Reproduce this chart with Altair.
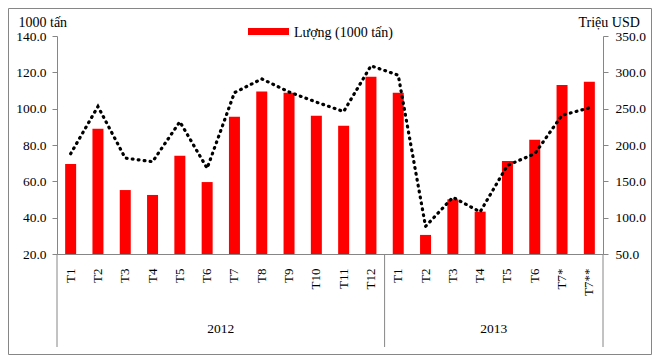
import altair as alt
import pandas as pd

months_2012 = ["T1", "T2", "T3", "T4", "T5", "T6", "T7", "T8", "T9", "T10", "T11", "T12"]
months_2013 = ["T1", "T2", "T3", "T4", "T5", "T6", "T7*", "T7**"]
volume_2012 = [69.5, 89.0, 55.2, 52.5, 74.1, 59.6, 95.6, 109.4, 108.8, 96.1, 90.6, 117.6]
volume_2013 = [108.8, 30.5, 50.1, 43.3, 71.2, 82.9, 113.0, 114.8]
value_2012 = [188, 253, 182, 177, 232, 168, 272, 291, 273, 259, 246, 309]
value_2013 = [296, 88, 128, 108, 172, 188, 241, 251]
years = ["2012", "2013"]
left_ticks = [20, 40, 60, 80, 100, 120, 140]
right_ticks = [50, 100, 150, 200, 250, 300, 350]
legend_label = "Lượng (1000 tấn)"
left_title = "1000 tấn"
right_title = "Triệu USD"

rows = []
for m, v, u in zip(months_2012, volume_2012, value_2012):
    rows.append({"key": f"2012|{m}", "vol": v, "val": u})
for m, v, u in zip(months_2013, volume_2013, value_2013):
    rows.append({"key": f"2013|{m}", "vol": v, "val": u})
df = pd.DataFrame(rows)
order = list(df["key"])

FONT = "Liberation Serif"
GRAY = "#868686"
W, H = 546, 218

xscale = alt.Scale(domain=order, paddingInner=0, paddingOuter=0)
xaxis = alt.Axis(
    title=None, ticks=False, labelAngle=270, labelPadding=14,
    labelExpr="split(datum.label, '|')[1]", labelFont=FONT, labelFontSize=13,
    labelColor="black", domainColor=GRAY,
)


def X(**kw):
    return alt.X("key:N", scale=xscale, axis=xaxis, sort=order, **kw)


base = alt.Chart(df)

bars = base.mark_bar(color="#FF0000", size=11).encode(
    x=X(),
    y=alt.Y(
        "vol:Q",
        scale=alt.Scale(domain=[20, 140], zero=False, clamp=True, nice=False),
        axis=alt.Axis(
            values=left_ticks, format=".1f", grid=False, tickSize=5,
            tickColor=GRAY, domainColor=GRAY, labelPadding=6,
            labelFont=FONT, labelFontSize=13.5, labelColor="black",
            title=left_title, titleAngle=0, titleAlign="left",
            titleBaseline="alphabetic", titleX=-39, titleY=-10,
            titleFont=FONT, titleFontSize=14, titleFontWeight="normal",
            titleColor="black",
        ),
    ),
    y2=alt.Y2(datum=20),
)

line = base.mark_line(
    color="black", strokeWidth=3.2, strokeDash=[0.8, 5.2], strokeCap="round",
    interpolate="linear",
).encode(
    x=X(),
    y=alt.Y(
        "val:Q",
        scale=alt.Scale(domain=[50, 350], zero=False, nice=False),
        axis=alt.Axis(
            orient="right", values=right_ticks, format=".1f", grid=False,
            tickSize=5, tickColor=GRAY, domainColor=GRAY, labelPadding=7,
            labelFont=FONT, labelFontSize=13.5, labelColor="black",
            title=right_title, titleAngle=0, titleAlign="left",
            titleBaseline="alphabetic", titleX=-25, titleY=-10,
            titleFont=FONT, titleFontSize=14, titleFontWeight="normal",
            titleColor="black",
        ),
    ),
)

sep_start = pd.DataFrame({"key": [order[0], order[12]]})
sep_end = pd.DataFrame({"key": [order[-1]]})
rule_start = alt.Chart(sep_start).mark_rule(color=GRAY, strokeWidth=1).encode(
    x=X(bandPosition=0),
    y=alt.value(H), y2=alt.value(H + 93),
)
rule_end = alt.Chart(sep_end).mark_rule(color=GRAY, strokeWidth=1).encode(
    x=X(bandPosition=1),
    y=alt.value(H), y2=alt.value(H + 93),
)

year_df = pd.DataFrame({"key": ["2012|T7", "2013|T5"], "year": years})
year_text = alt.Chart(year_df).mark_text(
    font=FONT, fontSize=13.5, color="black", baseline="alphabetic"
).encode(
    x=X(bandPosition=0),
    y=alt.value(H + 79),
    text="year:N",
)

leg_df = pd.DataFrame({"label": [legend_label]})
leg_swatch = alt.Chart(leg_df).mark_rect(color="#FF0000").encode(
    x=alt.value(191), x2=alt.value(232), y=alt.value(-8), y2=alt.value(-1)
)
leg_text = alt.Chart(leg_df).mark_text(
    font=FONT, fontSize=14, color="black", align="left", baseline="alphabetic"
).encode(x=alt.value(237), y=alt.value(1), text="label:N")

border = alt.Chart(leg_df).mark_rect(fill=None, stroke=GRAY, strokeWidth=1).encode(
    x=alt.value(-48.5), x2=alt.value(W + 48.5), y=alt.value(-27.5), y2=alt.value(H + 100.5)
)

chart = (
    alt.layer(border, bars, line, rule_start, rule_end, year_text, leg_swatch, leg_text)
    .resolve_scale(y="independent")
    .properties(
        width=W, height=H, autosize="none",
        padding={"left": 49, "top": 28, "right": 49, "bottom": 101},
    )
    .configure_view(strokeWidth=0)
)

chart.save("out.html", embed_options={"renderer": "svg", "actions": False})
